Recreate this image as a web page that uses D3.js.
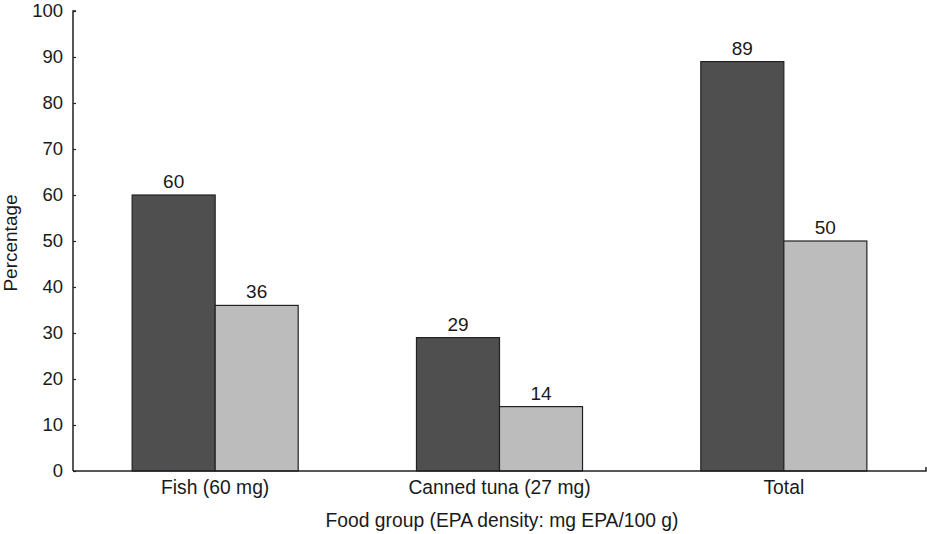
<!DOCTYPE html>
<html><head><meta charset="utf-8">
<script src="https://cdn.jsdelivr.net/npm/d3@7"></script>
<style>body{margin:0;background:#fff}svg{display:block}text{font-family:"Liberation Sans",Arial,sans-serif;fill:#1a1a1a}</style>
</head><body>
<svg id="c" width="927" height="534"></svg>
<script>
const categories = ["Fish (60 mg)", "Canned tuna (27 mg)", "Total"];
const seriesA = [60, 29, 89];
const seriesB = [36, 14, 50];
const yTicks = [0,10,20,30,40,50,60,70,80,90,100];
const xTitle = "Food group (EPA density: mg EPA/100 g)";
const yTitle = "Percentage";

const svg = d3.select("#c");
const L = 73, R = 926, T = 11, B = 471;
const x = d3.scaleBand().domain(categories).range([L, R]).paddingInner(0.416).paddingOuter(0.208);
const sub = d3.scaleBand().domain([0,1]).range([0, x.bandwidth()]);
const y = d3.scaleLinear().domain([0,100]).range([B, T]);

const g = svg.append("g");
const data = categories.map((c,i)=>({c, v:[seriesA[i], seriesB[i]]}));
const colors = ["#4f4f4f", "#bcbcbc"];
data.forEach(d=>{
  d.v.forEach((v,j)=>{
    g.append("rect").attr("x", x(d.c)+sub(j)).attr("y", y(v))
     .attr("width", sub.bandwidth()).attr("height", y(0)-y(v))
     .attr("fill", colors[j]).attr("stroke", "#222").attr("stroke-width", 1.2);
    g.append("text").attr("x", x(d.c)+sub(j)+sub.bandwidth()/2).attr("y", y(v)-7)
     .attr("text-anchor","middle").attr("font-size", 19).text(v);
  });
});

// y axis
const ya = svg.append("g").attr("transform", `translate(${L},0)`)
  .call(d3.axisLeft(y).tickValues(yTicks).tickSize(-3).tickPadding(10).tickFormat(d3.format("d")));
ya.select(".domain").attr("d", `M3,${T}H0V${B}`).attr("stroke","#222").attr("stroke-width",1.5);
ya.selectAll(".tick line").attr("stroke","#222").attr("stroke-width",1.2);
ya.selectAll(".tick text").attr("font-size", 18.5).attr("fill","#1a1a1a").style("font-family","'Liberation Sans',Arial,sans-serif");

// x axis
const xa = svg.append("g").attr("transform", `translate(0,${B})`)
  .call(d3.axisBottom(x).tickSize(0).tickPadding(7));
xa.select(".domain").attr("d", `M${L},0H${R}V-4`).attr("stroke","#222").attr("stroke-width",1.5);
xa.selectAll(".tick text").attr("font-size", 19.3).attr("fill","#1a1a1a").attr("dy","0.85em").style("font-family","'Liberation Sans',Arial,sans-serif");

svg.append("text").attr("x", 502).attr("y", 527).attr("text-anchor","middle").attr("font-size",19.3).text(xTitle);
svg.append("text").attr("transform", `translate(17,${(T+B)/2 + 2}) rotate(-90)`).attr("text-anchor","middle").attr("font-size",19).text(yTitle);
</script>
</body></html>
